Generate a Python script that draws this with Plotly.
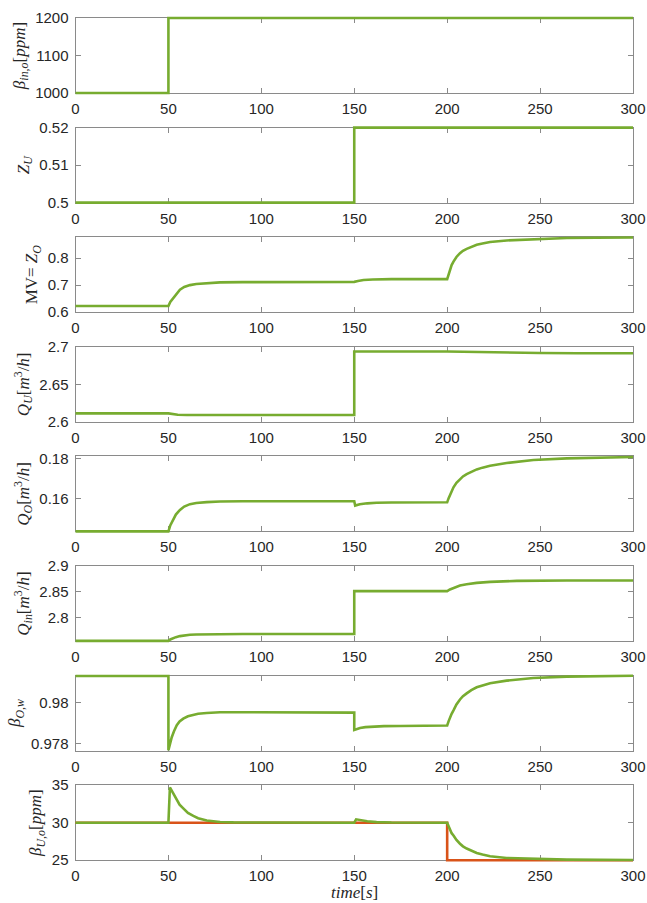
import plotly.graph_objects as go

# ---- signals (time in s) ----
t_beta_in = [0, 50, 50, 300]
beta_in = [1000, 1000, 1200, 1200]

t_zu = [0, 150, 150, 300]
zu = [0.5, 0.5, 0.52, 0.52]

t_zo = [0, 50, 51, 52.6, 54, 56.2, 58.5, 61.6, 65, 70.6, 77.8, 90, 110, 150, 152, 155, 160, 170,
        200, 200.8, 201.5, 202.4, 203.4, 205, 206.9, 208.5, 210.5, 213, 215.9, 219, 223.1, 232,
        246.4, 264.4, 280, 300]
zo = [0.623, 0.623, 0.638, 0.652, 0.667, 0.683, 0.693, 0.700, 0.704, 0.707, 0.710, 0.711, 0.712,
      0.712, 0.715, 0.719, 0.721, 0.722, 0.722, 0.742, 0.758, 0.774, 0.787, 0.804, 0.818, 0.827,
      0.834, 0.842, 0.849, 0.854, 0.859, 0.865, 0.870, 0.874, 0.875, 0.876]

t_qu = [0, 50, 55, 60, 150, 150, 200, 210, 220, 235, 250, 270, 300]
qu = [2.6112, 2.6112, 2.6095, 2.609, 2.609, 2.6937, 2.6937, 2.6932, 2.6925, 2.692, 2.6917,
      2.6915, 2.6915]

t_qo = [0, 50, 51, 52.6, 54, 56.2, 58.5, 61.6, 65, 70.6, 77.8, 90, 110, 150, 150.5, 153, 157,
        162, 170, 200, 200.8, 201.5, 202.4, 203.4, 205, 206.9, 208.5, 210.5, 213, 215.9, 219,
        223.1, 232, 246.4, 264.4, 280, 300]
qo = [0.1438, 0.1438, 0.1468, 0.1496, 0.1522, 0.1545, 0.1562, 0.1574, 0.1580, 0.1584, 0.1587,
      0.1588, 0.1588, 0.1588, 0.1567, 0.1573, 0.1578, 0.1581, 0.1582, 0.1583, 0.1604, 0.1620,
      0.1640, 0.1658, 0.1680, 0.1699, 0.1712, 0.1724, 0.1736, 0.1747, 0.1756, 0.1765, 0.1779,
      0.1794, 0.1802, 0.1806, 0.1809]

t_qin = [0, 50, 51, 52.6, 54, 56.2, 58.5, 61.6, 65, 70.6, 77.8, 90, 110, 150, 150, 153, 160, 170,
         200, 201.5, 203.4, 206.9, 210.5, 215.9, 223.1, 237.5, 264.4, 300]
qin = [2.7548, 2.7548, 2.7575, 2.7600, 2.7620, 2.7640, 2.7655, 2.7665, 2.7672, 2.7676, 2.7679,
       2.768, 2.768, 2.768, 2.8513, 2.8513, 2.8513, 2.8513, 2.8513, 2.8545, 2.8577, 2.8622,
       2.8647, 2.8673, 2.8692, 2.8712, 2.8718, 2.8720]

t_bow = [0, 50, 50, 51, 51.8, 53, 54.5, 56, 58, 60.5, 63.4, 66, 70.6, 77.8, 85, 110, 150, 150,
         151.5, 153.1, 156, 160.3, 166, 174.7, 200, 200.8, 201.5, 202.4, 203.4, 205, 206.9, 208.5,
         210.5, 213, 215.9, 219, 223.1, 232, 246.4, 264.4, 280, 300]
bow = [0.98133, 0.98133, 0.97766, 0.97805, 0.9783, 0.9786, 0.9789, 0.97908, 0.97922, 0.97934,
       0.97942, 0.97946, 0.9795, 0.97954, 0.97954, 0.97954, 0.97952, 0.97866, 0.97872, 0.97876,
       0.9788, 0.97883, 0.97885, 0.97886, 0.97888, 0.97910, 0.97928, 0.97946, 0.97963, 0.97992,
       0.98017, 0.98033, 0.98047, 0.98063, 0.98077, 0.98087, 0.98097, 0.9811, 0.98123, 0.9813,
       0.98132, 0.98134]

t_buo_ref = [0, 200, 200, 300]
buo_ref = [30, 30, 25, 25]

t_buo = [0, 50, 50.8, 52, 54.5, 56, 58, 60.5, 63.4, 66, 70.6, 77.8, 85, 150, 151, 153, 157, 162,
         170, 200, 200.8, 201.5, 202.4, 203.4, 205, 206.9, 208.5, 210.5, 213, 215.9, 219, 223.1,
         232, 246.4, 264.4, 300]
buo = [30, 30, 34.7, 34.2, 33.0, 32.4, 31.9, 31.3, 30.9, 30.6, 30.3, 30.1, 30.04, 30.0, 30.45,
       30.35, 30.2, 30.08, 30.02, 30.0, 29.5, 29.0, 28.6, 28.3, 27.7, 27.2, 26.85, 26.56, 26.25,
       25.97, 25.75, 25.53, 25.3, 25.17, 25.08, 25.03]

# ---- per-panel axis setup ----
y_labels = [
    "<i>β</i><sub><i>in,o</i></sub>[<i>ppm</i>]",
    "<i>Z</i><sub><i>U</i></sub>",
    "MV= <i>Z</i><sub><i>O</i></sub>",
    "<i>Q</i><sub><i>U</i></sub>[<i>m</i><sup>3</sup>/<i>h</i>]",
    "<i>Q</i><sub><i>O</i></sub>[<i>m</i><sup>3</sup>/<i>h</i>]",
    "<i>Q</i><sub><i>in</i></sub>[<i>m</i><sup>3</sup>/<i>h</i>]",
    "<i>β</i><sub><i>O,w</i></sub>",
    "<i>β</i><sub><i>U,o</i></sub>[<i>ppm</i>]",
]
y_ranges = [[1000, 1200], [0.5, 0.52], [0.6, 0.877], [2.6, 2.7], [0.1438, 0.1812],
            [2.7545, 2.9], [0.97764, 0.98135], [25, 35]]
y_ticks = [[1000, 1100, 1200], [0.5, 0.51, 0.52], [0.6, 0.7, 0.8], [2.6, 2.65, 2.7],
           [0.16, 0.18], [2.8, 2.85, 2.9], [0.978, 0.98], [25, 30, 35]]
y_ticktext = [["1000", "1100", "1200"], ["0.5", "0.51", "0.52"], ["0.6", "0.7", "0.8"],
              ["2.6", "2.65", "2.7"], ["0.16", "0.18"], ["2.8", "2.85", "2.9"],
              ["0.978", "0.98"], ["25", "30", "35"]]
x_title = "<i>time</i>[<i>s</i>]"
x_range = [0, 300]
x_ticks = [0, 50, 100, 150, 200, 250, 300]

GREEN = "#77AC30"
RED = "#D95319"
AX = "#8a8a8a"
TXT = "#262626"
MATH_FONT = dict(family="Liberation Serif", size=17, color=TXT)

W, H = 647, 903
x_left, x_right = 75.5, 633.0
top0, pitch, ph = 18.0, 109.6, 75.0
PAD = 4.0  # px of extra room so strokes on the box edge are not cut

series = [
    [(t_beta_in, beta_in, GREEN)],
    [(t_zu, zu, GREEN)],
    [(t_zo, zo, GREEN)],
    [(t_qu, qu, GREEN)],
    [(t_qo, qo, GREEN)],
    [(t_qin, qin, GREEN)],
    [(t_bow, bow, GREEN)],
    [(t_buo_ref, buo_ref, RED), (t_buo, buo, GREEN)],
]

fig = go.Figure()
layout = dict(
    width=W, height=H,
    margin=dict(l=0, r=0, t=0, b=0, autoexpand=False),
    paper_bgcolor="white", plot_bgcolor="rgba(0,0,0,0)",
    showlegend=False,
)

xw = x_right - x_left
xspan = x_range[1] - x_range[0]
x_pad = PAD * xspan / xw
data_x_dom = [(x_left - PAD) / W, (x_right + PAD) / W]
data_x_rng = [x_range[0] - x_pad, x_range[1] + x_pad]

for i in range(8):
    sfx = "" if i == 0 else str(i + 1)
    dsfx = str(i + 9)
    top = top0 + i * pitch
    bot = top + ph
    lo, hi = y_ranges[i]
    y_pad = PAD * (hi - lo) / ph

    # visible frame, ticks and labels
    fig.add_trace(go.Scatter(x=[None], y=[None], xaxis="x" + sfx, yaxis="y" + sfx,
                             hoverinfo="skip"))
    # signals on a slightly larger, hidden subplot with identical scale
    for tx, vy, col in series[i]:
        fig.add_trace(go.Scatter(x=tx, y=vy, mode="lines", xaxis="x" + dsfx, yaxis="y" + dsfx,
                                 line=dict(color=col, width=2.6), hoverinfo="skip"))

    common = dict(showline=True, linecolor=AX, linewidth=1, mirror="ticks", ticks="inside",
                  ticklen=5, tickcolor=AX, tickwidth=1, showgrid=False, zeroline=False,
                  automargin=False,
                  tickfont=dict(family="Liberation Sans", size=15, color=TXT))
    xa = dict(common, domain=[x_left / W, x_right / W], range=x_range, tickvals=x_ticks,
              anchor="y" + sfx, ticklabelstandoff=2)
    ya = dict(common, domain=[1 - bot / H, 1 - top / H], range=[lo, hi],
              tickvals=y_ticks[i], ticktext=y_ticktext[i], anchor="x" + sfx,
              ticklabelstandoff=3,
              title=dict(text=y_labels[i], standoff=5, font=MATH_FONT))
    layout["xaxis" + sfx] = xa
    layout["yaxis" + sfx] = ya
    layout["xaxis" + dsfx] = dict(visible=False, domain=data_x_dom, range=data_x_rng,
                                  anchor="y" + dsfx, automargin=False)
    layout["yaxis" + dsfx] = dict(visible=False,
                                  domain=[1 - (bot + PAD) / H, 1 - (top - PAD) / H],
                                  range=[lo - y_pad, hi + y_pad], anchor="x" + dsfx,
                                  automargin=False)

# shared time-axis title under the bottom panel
layout["annotations"] = [dict(text=x_title, xref="paper", yref="paper",
                              x=(x_left + x_right) / 2 / W, y=0.0,
                              xanchor="center", yanchor="bottom", showarrow=False,
                              borderpad=0, font=MATH_FONT)]

fig.update_layout(**layout)
fig.write_html("out.html")
